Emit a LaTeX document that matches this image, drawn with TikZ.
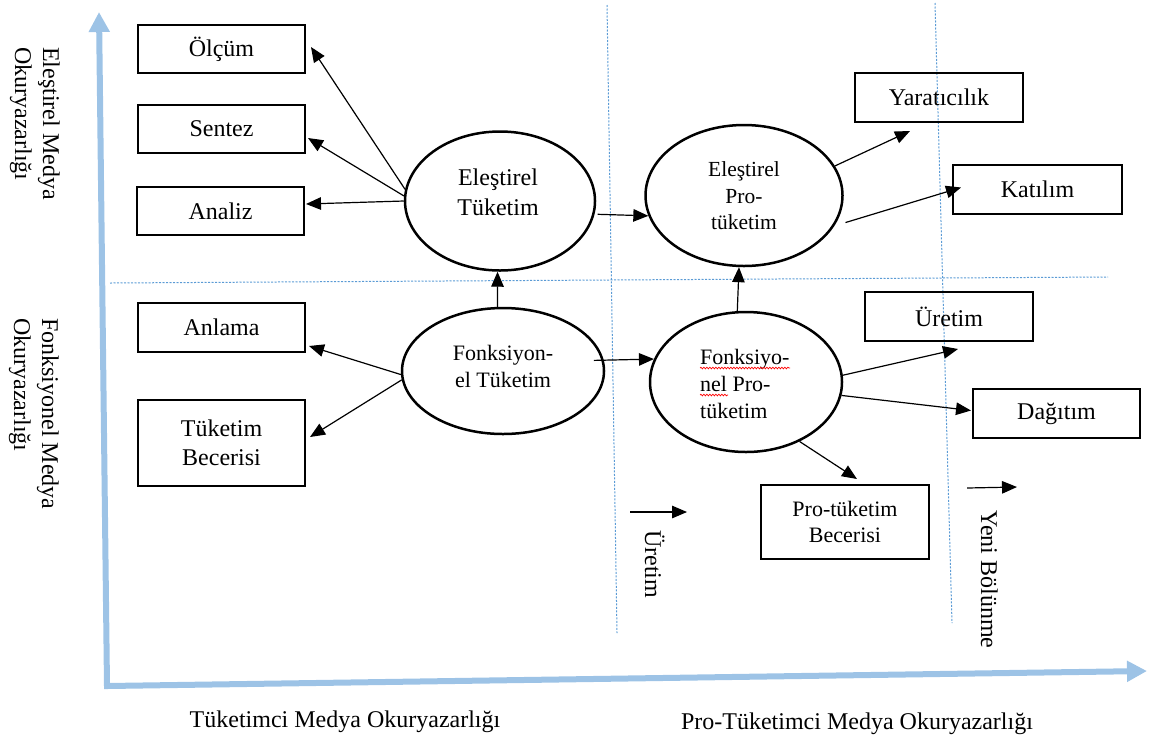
\documentclass[tikz,border=0pt]{standalone}
\usepackage{fontspec}
\setmainfont{Liberation Serif}
\usetikzlibrary{arrows.meta,shapes.geometric,calc,decorations.pathmorphing}
\definecolor{axisblue}{RGB}{157,195,230}
\definecolor{guideblue}{RGB}{91,155,213}
\begin{document}
\begin{tikzpicture}[x=1pt,y=-1pt,
  box/.style={draw, line width=2pt, minimum width=167pt, minimum height=48pt, inner sep=0pt, font=\fontsize{24}{29}\selectfont, align=center},
  ell/.style={draw, ellipse, line width=2.5pt, inner sep=0pt},
  etext/.style={inner sep=0pt, align=center},
  lbl/.style={inner sep=0pt, font=\fontsize{24}{28}\selectfont},
  arr/.style={line width=1.2pt, -{Triangle[length=15pt,width=12.5pt]}},
  guide/.style={guideblue, line width=1pt, dash pattern=on 2pt off 1.5pt},
  axis/.style={axisblue, line width=6pt, line join=miter, {Triangle[length=20pt,width=20pt]}-{Triangle[length=20pt,width=20pt]}},
  squig/.style={red, line width=0.7pt, decorate, decoration={snake, amplitude=0.8pt, segment length=3pt}}
]
\useasboundingbox (0,0) rectangle (1155,740);

% guide lines
\draw[guide] (110,283) -- (1108,277);
\draw[guide] (607,5) -- (617,633);
\draw[guide] (935,3) -- (952,623);

% axes
\coordinate (O) at (107,686);
\coordinate (ytip) at (99,12);
\coordinate (xtip) at (1147,671);
\draw[axis] (ytip) -- (O) -- (xtip);

% boxes
\node[box] (olcum) at (221.5,49) {Ölçüm};
\node[box] (sentez) at (221.5,129) {Sentez};
\node[box] (analiz) at (220.5,211) {Analiz};
\node[box, minimum height=49pt] (anlama) at (221.5,327.5) {Anlama};
\node[box, minimum height=86pt] (tb) at (221.5,443) {Tüketim\\Becerisi};
\node[box, minimum width=168pt, minimum height=49pt] (yar) at (939,97.5) {Yaratıcılık};
\node[box, minimum width=169pt, minimum height=49pt] (kat) at (1037.5,189.5) {Katılım};
\node[box, minimum width=168pt, minimum height=49pt] (ure) at (949,316.5) {Üretim};
\node[box, minimum height=49pt] (dag) at (1056.5,413.5) {Dağıtım};
\node[box, minimum width=168pt, minimum height=74pt, font=\fontsize{22}{26}\selectfont] (ptb) at (845,522) {Pro-tüketim\\Becerisi};

% ellipses
\node[ell, minimum width=190pt, minimum height=139pt] (et) at (500,201) {};
\node[ell, minimum width=202pt, minimum height=126pt] (ft) at (503,371) {};
\node[ell, minimum width=197pt, minimum height=141pt] (ep) at (744,195.5) {};
\node[ell, minimum width=192pt, minimum height=140pt] (fp) at (746,382) {};

\node[etext, font=\fontsize{24}{30}\selectfont] (ett) at (498,192) {Eleştirel\\Tüketim};
\node[etext, font=\fontsize{22}{27}\selectfont] (ftt) at (503,366) {Fonksiyon-\\el Tüketim};
\node[etext, font=\fontsize{21.5}{26.5}\selectfont] (ept) at (744,196) {Eleştirel\\Pro-\\tüketim};
\node[inner sep=0pt, align=left, anchor=west, font=\fontsize{22}{27}\selectfont] (fpt) at (700,384) {Fonksiyo-\\nel Pro-\\tüketim};
\draw[squig] ($(fpt.west)+(0,-16)$) -- ($(fpt.west)+(90,-16)$);
\draw[squig] ($(fpt.west)+(0,11)$) -- ($(fpt.west)+(28,11)$);

% axis labels
\node[lbl, align=left, rotate=-90, anchor=north west] (ylab1) at (60,47) {Eleştirel Medya\\Okuryazarlığı};
\node[lbl, align=left, rotate=-90, anchor=north west] (ylab2) at (59,318) {Fonksiyonel Medya\\Okuryazarlığı};
\node[lbl, anchor=base] (xlab1) at (345,727) {Tüketimci Medya Okuryazarlığı};
\node[lbl, anchor=base] (xlab2) at (857,729) {Pro-Tüketimci Medya Okuryazarlığı};

% free arrows with rotated labels
\coordinate (u1) at (630,512);
\coordinate (u2) at (687,512);
\draw[arr] (u1) -- (u2);
\node[lbl, rotate=-90, anchor=base west] (uret) at (645,530) {Üretim};
\coordinate (n1) at (967,488);
\coordinate (n2) at (1017,487);
\draw[arr] (n1) -- (n2);
\node[lbl, rotate=-90, anchor=base west] (yeni) at (981,510) {Yeni Bölünme};

% connectors
\draw[arr] (et.173) -- ($(olcum.east)+(5,-2)$);
\draw[arr] (et.177) -- ($(sentez.east)+(2,9)$);
\draw[arr] (et.180) -- ($(analiz.east)+(1,-7)$);
\draw[arr] (ft.182) -- ($(anlama.south east)+(3,-7)$);
\draw[arr] (ft.185) -- ($(tb.east)+(4,-6)$);
\draw[arr] (ft.95) -- (et.-92);
\draw[arr] ([xshift=3pt]et.-8) -- (ep.192);
\draw[arr] ([xshift=-10pt]ft.6) -- (fp.166);
\draw[arr] (fp.97) -- (ep.-94);
\draw[arr] (ep.18) -- ($(yar.south)+(-29,8)$);
\draw[arr] ($(ep.-15)+(8,2)$) -- ($(kat.west)+(9,-2)$);
\draw[arr] (fp.4) -- ($(ure.south)+(9,7)$);
\draw[arr] (fp.-8) -- ($(dag.west)+(-1,-3)$);
\draw[arr] (fp.-48) -- ($(ptb.north)+(12,-5)$);
\end{tikzpicture}
\end{document}
